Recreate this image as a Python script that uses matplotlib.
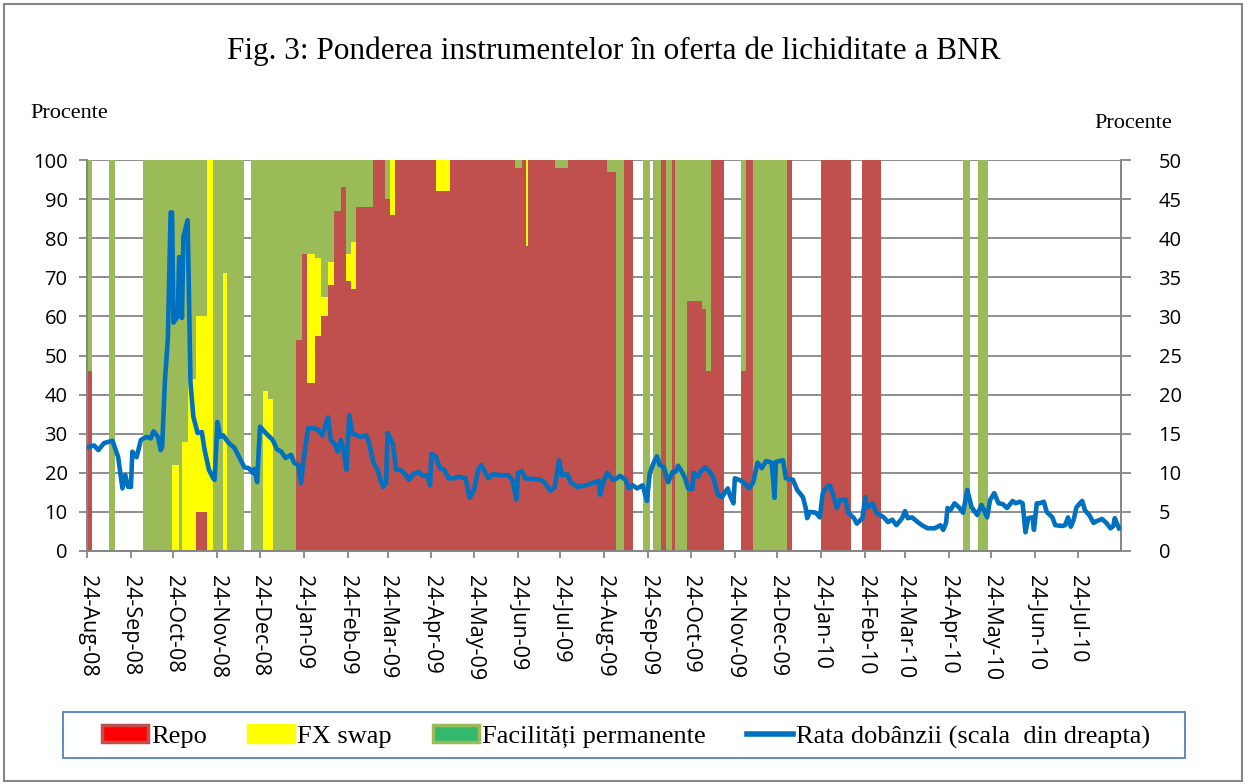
import matplotlib
matplotlib.use('Agg')
import matplotlib.pyplot as plt
import numpy as np
import pandas as pd
from matplotlib.patches import Patch, Rectangle
from matplotlib.lines import Line2D

BASE = pd.Timestamp('2008-08-24')

# ---- liquidity-supply shares: segments (days since 24-Aug-08) ----
seg_start = [0, 15.5, 39.5, 60, 65, 67, 71, 77, 84.5, 89, 96, 98.5, 115.5, 124, 127.5, 131,
             147.5, 151.5, 155.5, 160.5, 165, 170, 174, 179, 183, 186, 189.5, 202, 210.5, 214,
             217, 246, 256, 302, 307, 310, 311, 330, 339, 367, 373, 378.5, 392.5, 399, 405,
             408.5, 413, 414.5, 423.5, 434, 437, 440.5, 461, 465, 470, 493.5, 517.5, 547,
             618, 628.5]
seg_end = [3.5, 19.5, 60, 65, 67, 71, 77, 84.5, 89, 96, 98.5, 110.5, 124, 127.5, 131, 147.5,
           151.5, 155.5, 160.5, 165, 170, 174, 179, 183, 186, 189.5, 202, 210.5, 214, 217,
           246, 256, 302, 307, 310, 311, 330, 339, 367, 373, 378.5, 385.5, 397, 405, 408.5,
           413, 414.5, 423.5, 434, 437, 440.5, 449, 465, 470, 493.5, 497, 539, 560,
           623, 635.5]
repo = [46, 0, 0, 0, 0, 0, 0, 10, 0, 0, 0, 0, 0, 0, 0, 0,
        54, 76, 43, 55, 60, 68, 87, 93, 69, 67, 88, 100, 90, 86,
        100, 92, 100, 98, 100, 78, 100, 98, 100, 97, 0, 100, 0, 0, 100,
        0, 100, 0, 64, 62, 46, 100, 46, 100, 0, 100, 100, 100,
        0, 0]
fx_swap = [0, 0, 0, 22, 0, 28, 44, 50, 100, 0, 71, 0, 0, 41, 39, 0,
           0, 0, 33, 20, 5, 6, 0, 0, 7, 12, 0, 0, 0, 14,
           0, 8, 0, 0, 0, 22, 0, 0, 0, 0, 0, 0, 0, 0, 0,
           0, 0, 0, 0, 0, 0, 0, 0, 0, 0, 0, 0, 0,
           0, 0]
facilitati = [54, 100, 100, 78, 100, 72, 56, 40, 0, 100, 29, 100, 100, 59, 61, 100,
              46, 24, 24, 25, 35, 26, 13, 7, 24, 21, 12, 0, 10, 0,
              0, 0, 0, 2, 0, 0, 0, 2, 0, 3, 100, 0, 100, 100, 0,
              100, 0, 100, 36, 38, 54, 0, 54, 0, 100, 0, 0, 0,
              100, 100]

# ---- interest rate (right scale), days since 24-Aug-08 ----
rate_day = [1, 5, 8, 12, 18, 22, 25, 27, 29, 31, 32, 35, 38, 42, 45, 47, 50, 52, 53, 55, 57, 59,
            60, 61, 64, 65, 66, 67, 68, 71, 73, 75, 78, 81, 83, 86, 89, 90, 92, 94, 96, 100,
            104, 111, 114, 117, 118, 120, 122, 126, 131, 134, 137, 140, 144, 146, 149, 151,
            153, 156, 160, 163, 166, 170, 172, 175, 177, 179, 181, 183, 185, 187, 190, 193,
            197, 199, 202, 205, 207, 209, 211, 212, 216, 218, 221, 225, 227, 230, 234, 237,
            240, 242, 243, 246, 249, 252, 255, 259, 262, 267, 270, 273, 276, 278, 281, 283,
            286, 292, 297, 300, 303, 304, 307, 309, 315, 320, 323, 327, 330, 333, 335, 339,
            341, 346, 352, 357, 361, 362, 364, 367, 371, 373, 376, 380, 382, 385, 388, 392,
            395, 397, 400, 402, 404, 407, 410, 413, 415, 417, 420, 422, 424, 427, 428, 431,
            433, 436, 440, 442, 445, 448, 452, 454, 456, 457, 460, 463, 467, 470, 473, 476,
            479, 483, 485, 486, 491, 493, 498, 501, 505, 507, 508, 510, 514, 517, 519, 522,
            524, 526, 529, 531, 535, 537, 541, 543, 547, 549, 550, 554, 557, 562, 565, 568,
            571, 575, 577, 579, 582, 586, 589, 593, 598, 602, 604, 606, 607, 609, 612, 615,
            618, 621, 624, 628, 631, 635, 637, 640, 643, 646, 649, 653, 655, 658, 660, 662,
            664, 667, 668, 670, 672, 675, 677, 681, 683, 688, 690, 692, 694, 696, 698, 702,
            704, 707, 710, 712, 716, 719, 722, 724, 725, 728]
rate = [13.3, 13.5, 12.9, 13.8, 14.1, 12.0, 8.0, 9.7, 8.2, 8.2, 12.7, 12.0, 14.2, 14.6, 14.4,
        15.3, 14.6, 12.9, 13.3, 21.9, 27.0, 43.3, 43.3, 29.2, 30.0, 37.6, 35.0, 29.8, 40.2,
        42.3, 21.5, 17.2, 15.1, 15.2, 12.9, 10.4, 9.3, 9.1, 16.5, 14.6, 14.8, 13.8, 13.2,
        10.7, 10.6, 10.0, 10.5, 8.8, 15.9, 15.1, 14.2, 13.0, 12.7, 11.9, 12.3, 11.3, 11.0,
        8.7, 12.0, 15.7, 15.7, 15.5, 14.8, 17.1, 14.2, 13.6, 12.7, 14.2, 12.9, 10.4, 17.4,
        15.1, 14.8, 14.6, 14.8, 13.8, 11.3, 10.4, 9.1, 8.2, 8.7, 15.1, 13.6, 10.4, 10.4,
        9.7, 9.1, 9.8, 10.1, 9.6, 9.7, 8.4, 12.4, 12.1, 10.6, 10.4, 9.3, 9.3, 9.5, 9.3, 6.8,
        7.8, 10.4, 11.0, 10.0, 9.3, 9.8, 9.7, 9.7, 9.1, 6.6, 10.0, 10.2, 9.3, 9.2, 9.1, 8.7,
        7.7, 8.2, 11.6, 9.7, 9.8, 8.8, 8.2, 8.4, 8.7, 9.0, 7.2, 8.7, 10.0, 9.1, 9.2, 9.6,
        9.1, 8.0, 8.4, 8.0, 8.4, 6.4, 10.0, 11.4, 12.1, 11.0, 10.7, 8.8, 10.1, 10.1, 10.9,
        10.0, 9.3, 8.0, 7.9, 10.0, 9.5, 10.2, 10.7, 10.0, 9.3, 7.2, 6.9, 8.0, 6.9, 6.1, 9.3,
        9.1, 8.8, 8.0, 8.8, 11.3, 10.6, 11.5, 11.3, 6.8, 11.4, 11.6, 9.3, 9.1, 7.8, 6.9, 5.5,
        4.2, 5.0, 4.9, 4.3, 7.4, 8.2, 8.4, 7.4, 5.5, 6.5, 6.6, 4.9, 4.2, 3.5, 4.2, 6.9, 5.5,
        6.1, 4.9, 4.3, 3.7, 4.0, 3.3, 4.2, 5.1, 4.2, 4.3, 3.7, 3.3, 2.9, 2.9, 3.3, 2.7, 3.6,
        5.5, 5.2, 6.1, 5.6, 4.9, 7.8, 5.6, 4.6, 5.9, 4.3, 6.5, 7.4, 6.1, 6.0, 5.5, 6.4, 6.1,
        6.3, 6.1, 2.4, 4.2, 4.3, 2.7, 6.1, 6.1, 6.3, 5.0, 4.3, 3.3, 3.2, 3.3, 4.3, 3.1, 4.0,
        5.6, 6.4, 5.2, 4.6, 3.6, 3.8, 4.1, 3.6, 2.9, 3.2, 4.2, 2.9]

tick_dates = ['2008-08-24', '2008-09-24', '2008-10-24', '2008-11-24', '2008-12-24',
              '2009-01-24', '2009-02-24', '2009-03-24', '2009-04-24', '2009-05-24',
              '2009-06-24', '2009-07-24', '2009-08-24', '2009-09-24', '2009-10-24',
              '2009-11-24', '2009-12-24', '2010-01-24', '2010-02-24', '2010-03-24',
              '2010-04-24', '2010-05-24', '2010-06-24', '2010-07-24']
tick_labels = ['24-Aug-08', '24-Sep-08', '24-Oct-08', '24-Nov-08', '24-Dec-08',
               '24-Jan-09', '24-Feb-09', '24-Mar-09', '24-Apr-09', '24-May-09',
               '24-Jun-09', '24-Jul-09', '24-Aug-09', '24-Sep-09', '24-Oct-09',
               '24-Nov-09', '24-Dec-09', '24-Jan-10', '24-Feb-10', '24-Mar-10',
               '24-Apr-10', '24-May-10', '24-Jun-10', '24-Jul-10']

title = 'Fig. 3: Ponderea instrumentelor în oferta de lichiditate a BNR'
series_names = ['Repo', 'FX swap', 'Facilități permanente', 'Rata dobânzii (scala  din dreapta)']

C_REPO = '#C0504D'
C_FX = '#FFFF00'
C_GREEN = '#9BBB59'
C_LINE = '#0070C0'
C_AX = '#868686'
SERIF = ['Liberation Serif', 'DejaVu Serif']
SANS = ['Open Sans', 'DejaVu Sans']

W, H = 1248, 784
fig = plt.figure(figsize=(W / 100, H / 100), dpi=100)

# outer chart frame and legend frame
fig.add_artist(Rectangle((4 / W, 3 / H), 1238 / W, 777 / H, transform=fig.transFigure,
                         fill=False, edgecolor=C_AX, linewidth=1.5))
fig.add_artist(Rectangle((63 / W, 1 - 758 / H), (1185 - 63) / W, 46 / H,
                         transform=fig.transFigure, fill=False, edgecolor='#4F81BD',
                         linewidth=1.3))

ax = fig.add_axes([87 / W, 1 - 551 / H, (1121 - 87) / W, (551 - 160) / H])

s = np.array(seg_start, dtype=float)
e = np.array(seg_end, dtype=float)
r = np.array(repo, dtype=float)
f = np.array(fx_swap, dtype=float)
g = np.array(facilitati, dtype=float)
wdt = e - s


def draw(vals, bottom, color):
    m = vals > 0
    ax.bar(s[m], vals[m], width=wdt[m], bottom=bottom[m], align='edge',
           color=color, linewidth=0, antialiased=False, zorder=2)


draw(r, np.zeros_like(r), C_REPO)
draw(f, r, C_FX)
draw(g, r + f, C_GREEN)

ax.set_xlim(0, 729.4)
ax.set_ylim(0, 100)
ax.set_yticks(np.arange(0, 101, 10))
ax.yaxis.grid(True, color=C_AX, linewidth=1.3)
ax.set_axisbelow(True)

tick_pos = (pd.to_datetime(tick_dates) - BASE).days
ax.set_xticks(tick_pos)
ax.set_xticklabels(tick_labels, rotation=-90, fontfamily=SANS, fontsize=15.5)
for lab in ax.get_yticklabels():
    lab.set_fontfamily(SANS)
    lab.set_fontsize(14.5)
ax.tick_params(axis='x', direction='out', length=5, width=1.3, color=C_AX, pad=12)
ax.tick_params(axis='y', direction='out', length=6, width=1.3, color=C_AX, pad=8)
for sp in ['left', 'right', 'bottom']:
    ax.spines[sp].set_color(C_AX)
    ax.spines[sp].set_linewidth(1.3)
ax.spines['top'].set_visible(False)

ax2 = ax.twinx()
rdates = np.array(rate_day, dtype=float)
ax2.plot(rdates, rate, color=C_LINE, linewidth=3.3, solid_joinstyle='round', zorder=5)
ax2.set_ylim(0, 50)
ax2.set_yticks(np.arange(0, 51, 5))
for lab in ax2.get_yticklabels():
    lab.set_fontfamily(SANS)
    lab.set_fontsize(14.5)
ax2.tick_params(axis='y', direction='out', length=7, width=1.3, color=C_AX, pad=20)
for sp in ['left', 'right', 'bottom']:
    ax2.spines[sp].set_color(C_AX)
    ax2.spines[sp].set_linewidth(1.3)
ax2.spines['top'].set_visible(False)
ax2.set_xlim(0, 729.4)

fig.text(614 / W, 1 - 51 / H, title, ha='center', va='center',
         fontfamily=SERIF, fontsize=22.5)
fig.text(30 / W, 1 - 114 / H, 'Procente', ha='left', va='center', fontfamily=SERIF, fontsize=16)
fig.text(1094 / W, 1 - 123 / H, 'Procente', ha='left', va='center', fontfamily=SERIF, fontsize=16)

handles = [Patch(facecolor='#FF0000', edgecolor=C_REPO, linewidth=2.5),
           Patch(facecolor=C_FX, edgecolor=C_FX, linewidth=2.5),
           Patch(facecolor='#33B86E', edgecolor=C_GREEN, linewidth=2.5),
           Line2D([0], [0], color=C_LINE, linewidth=4)]
leg = fig.legend(handles, series_names, loc='center',
                 bbox_to_anchor=(626 / W, 1 - 737 / H),
                 ncol=4, frameon=False, borderaxespad=0,
                 prop={'family': SERIF, 'size': 19}, handlelength=1.75, handleheight=0.6,
                 handletextpad=0.12, columnspacing=1.55)

fig.savefig('out.png', dpi=100)
